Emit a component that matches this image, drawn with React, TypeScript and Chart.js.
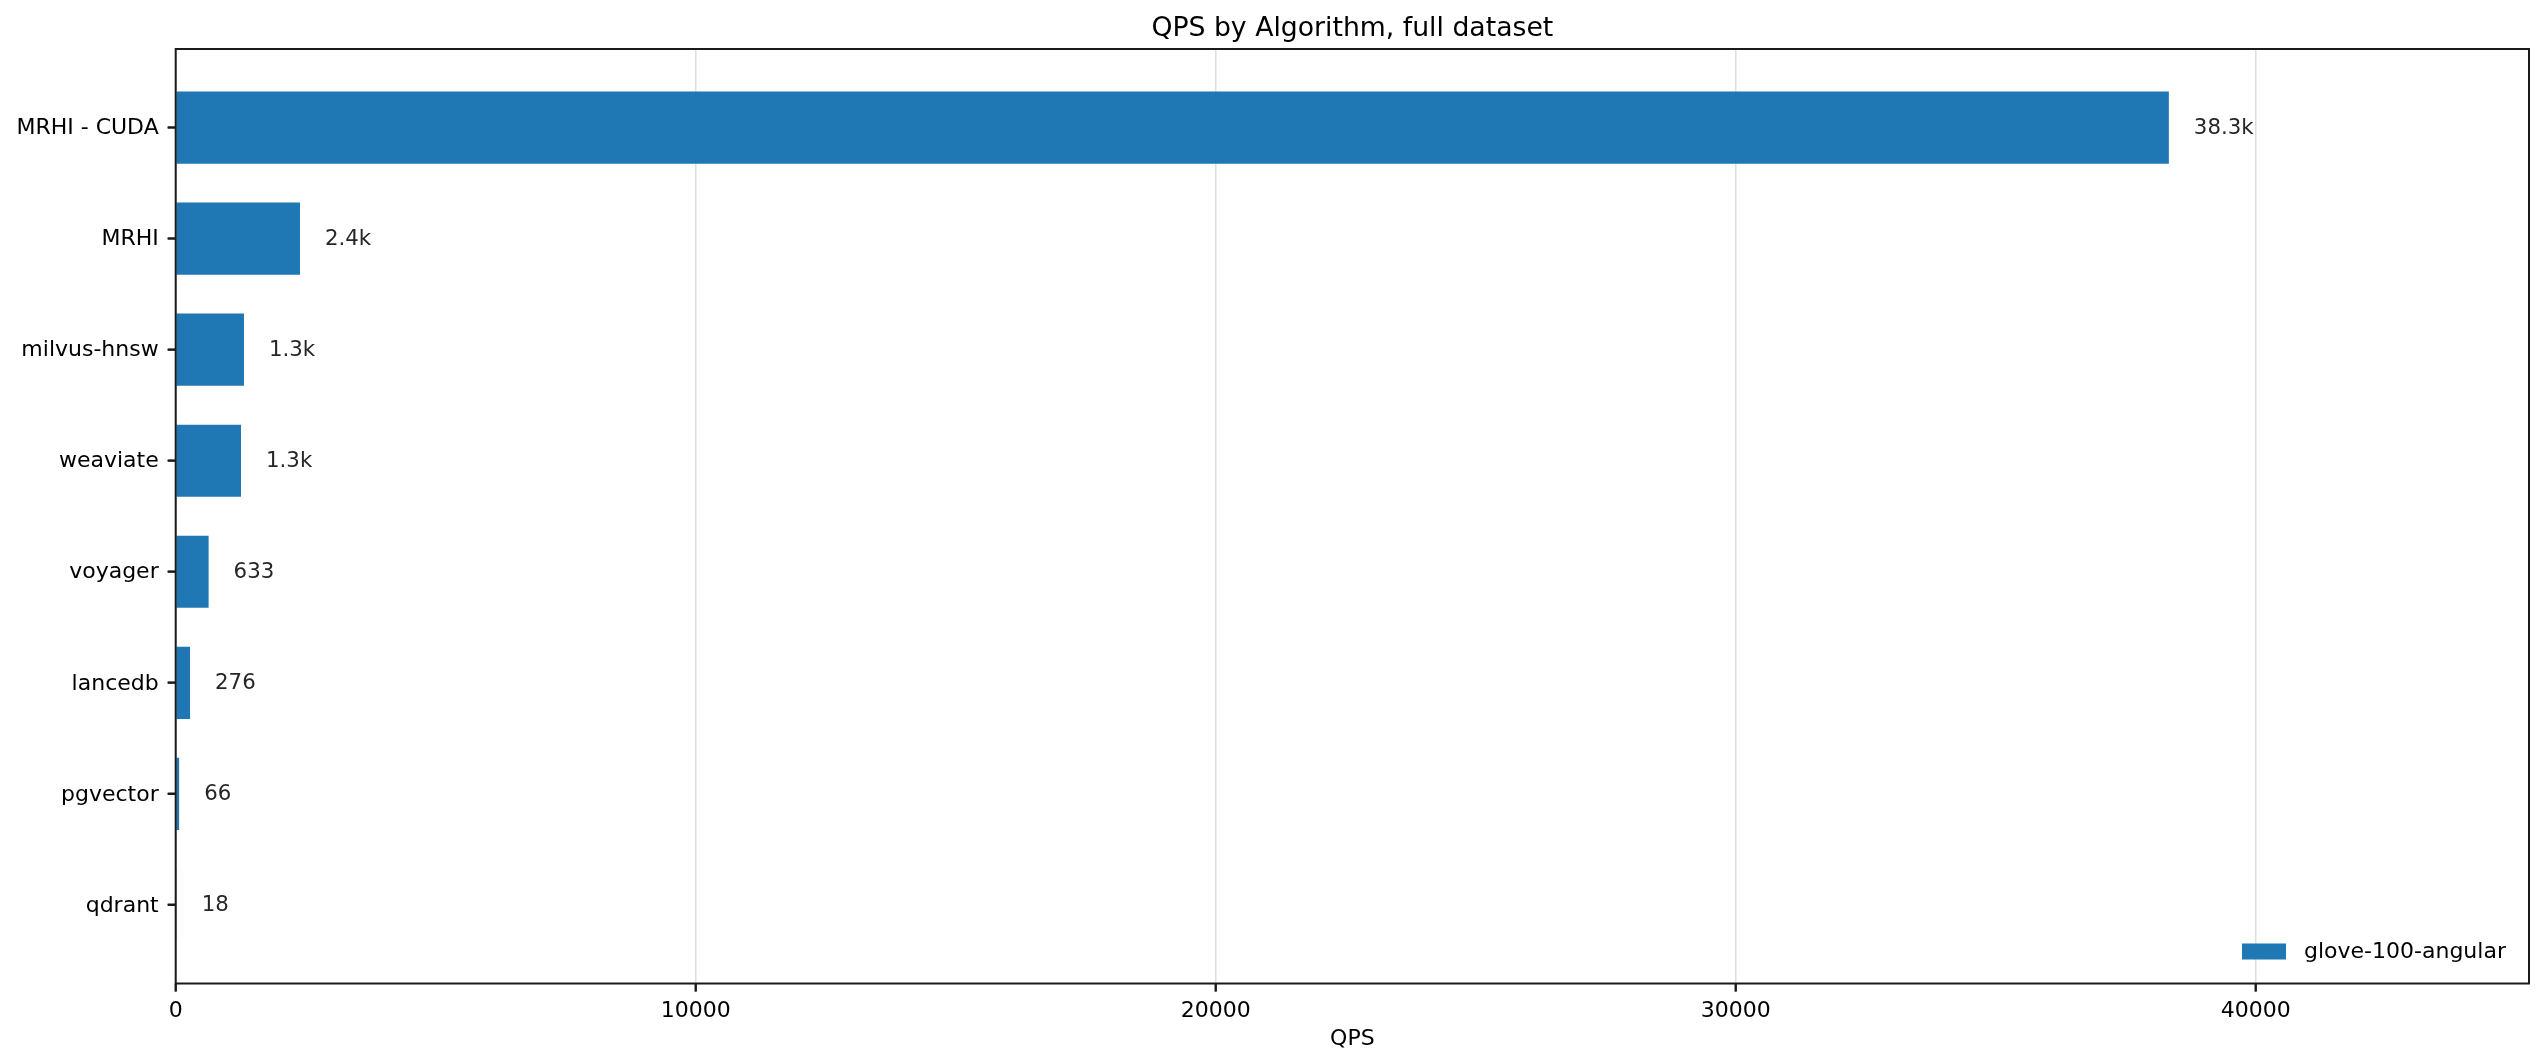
import React, { useEffect, useRef } from 'react';
import { Chart, registerables } from 'chart.js';

Chart.register(...registerables);

const algorithms = ['MRHI - CUDA', 'MRHI', 'milvus-hnsw', 'weaviate', 'voyager', 'lancedb', 'pgvector', 'qdrant'];
const qpsValues = [38330, 2390, 1313, 1256, 633, 276, 66, 18];
const xTickValues = [0, 10000, 20000, 30000, 40000];
const seriesName = 'glove-100-angular';
const chartTitle = 'QPS by Algorithm, full dataset';
const xAxisTitle = 'QPS';
const xMax = 45256;
const barHeightFraction = 0.65;

const FONT = "'DejaVu Sans', sans-serif";
const BAR_COLOR = '#1f77b4';
const AXIS_COLOR = '#1a1a1a';

const formatValue = (v: number) => (v >= 1000 ? (v / 1000).toFixed(1) + 'k' : String(v));

export default function App() {
  const canvasRef = useRef<HTMLCanvasElement | null>(null);

  useEffect(() => {
    document.body.style.margin = '0';
    const canvas = canvasRef.current;
    if (!canvas) return;

    const yMargin = (algorithms.length - 1 + barHeightFraction) * 0.05 + barHeightFraction / 2;

    const overlay = {
      id: 'overlay',
      afterDraw(chart: any) {
        const ctx = chart.ctx;
        const a = chart.chartArea;
        const cx = (a.left + a.right) / 2;
        ctx.save();
        // frame
        ctx.strokeStyle = AXIS_COLOR;
        ctx.lineWidth = 2;
        ctx.strokeRect(a.left, a.top, a.right - a.left, a.bottom - a.top);
        // tick marks
        ctx.beginPath();
        algorithms.forEach((_, i) => {
          const y = chart.scales.y.getPixelForValue(i);
          ctx.moveTo(a.left - 8, y);
          ctx.lineTo(a.left, y);
        });
        xTickValues.forEach((v) => {
          const x = chart.scales.x.getPixelForValue(v);
          ctx.moveTo(x, a.bottom);
          ctx.lineTo(x, a.bottom + 8);
        });
        ctx.stroke();
        // title
        ctx.fillStyle = '#000';
        ctx.textAlign = 'center';
        ctx.textBaseline = 'alphabetic';
        ctx.font = `26.7px ${FONT}`;
        ctx.fillText(chartTitle, cx, 36);
        // x-axis title
        ctx.font = `22px ${FONT}`;
        ctx.fillText(xAxisTitle, cx, 1045);
        // value labels
        const meta = chart.getDatasetMeta(0);
        ctx.font = `21.3px ${FONT}`;
        ctx.fillStyle = '#262626';
        ctx.textAlign = 'left';
        ctx.textBaseline = 'middle';
        meta.data.forEach((el: any, i: number) => {
          ctx.fillText(formatValue(qpsValues[i]), el.x + 25, el.y + 1);
        });
        // legend
        ctx.fillStyle = BAR_COLOR;
        ctx.fillRect(a.right - 287, a.bottom - 40, 44, 16);
        ctx.fillStyle = '#000';
        ctx.font = `22px ${FONT}`;
        ctx.textAlign = 'left';
        ctx.textBaseline = 'middle';
        ctx.fillText(seriesName, a.right - 225, a.bottom - 31);
        ctx.restore();
      },
    };

    const chart = new Chart(canvas, {
      type: 'bar',
      data: {
        datasets: [
          {
            label: seriesName,
            data: qpsValues.map((v, i) => ({ x: v, y: i })),
            backgroundColor: BAR_COLOR,
            borderWidth: 0,
            barPercentage: barHeightFraction,
            categoryPercentage: 1,
          },
        ],
      },
      options: {
        indexAxis: 'y',
        responsive: false,
        animation: false,
        events: [],
        layout: { padding: { top: 49, right: 15, left: 0, bottom: 0 } },
        plugins: {
          legend: { display: false },
          title: { display: false },
          tooltip: { enabled: false },
        },
        scales: {
          x: {
            type: 'linear',
            min: 0,
            max: xMax,
            offset: false,
            afterBuildTicks: (axis: any) => {
              axis.ticks = xTickValues.map((v) => ({ value: v }));
            },
            afterFit: (axis: any) => {
              axis.height = 80.5;
            },
            border: { display: false },
            grid: {
              offset: false,
              color: '#dddddd',
              lineWidth: 1.5,
              tickColor: AXIS_COLOR,
              tickWidth: 2,
              tickLength: 8,
            },
            ticks: {
              color: '#000',
              font: { family: FONT, size: 22 },
              padding: 7,
              maxRotation: 0,
              autoSkip: false,
              callback: (v: any) => String(v),
            },
          },
          y: {
            type: 'linear',
            reverse: true,
            offset: false,
            min: -yMargin,
            max: algorithms.length - 1 + yMargin,
            afterBuildTicks: (axis: any) => {
              axis.ticks = algorithms.map((_, i) => ({ value: i }));
            },
            afterFit: (axis: any) => {
              axis.width = 175.7;
            },
            border: { display: false },
            grid: {
              offset: false,
              drawOnChartArea: false,
              tickColor: AXIS_COLOR,
              tickWidth: 2,
              tickLength: 8,
            },
            ticks: {
              color: '#000',
              font: { family: FONT, size: 22 },
              padding: 9,
              labelOffset: 1,
              autoSkip: false,
              callback: (v: any) => algorithms[v] ?? '',
            },
          },
        },
      },
      plugins: [overlay],
    } as any);

    return () => chart.destroy();
  }, []);

  return (
    <canvas
      ref={canvasRef}
      width={2544}
      height={1064}
      style={{ position: 'absolute', left: 0, top: 0, width: 2544, height: 1064 }}
    />
  );
}
